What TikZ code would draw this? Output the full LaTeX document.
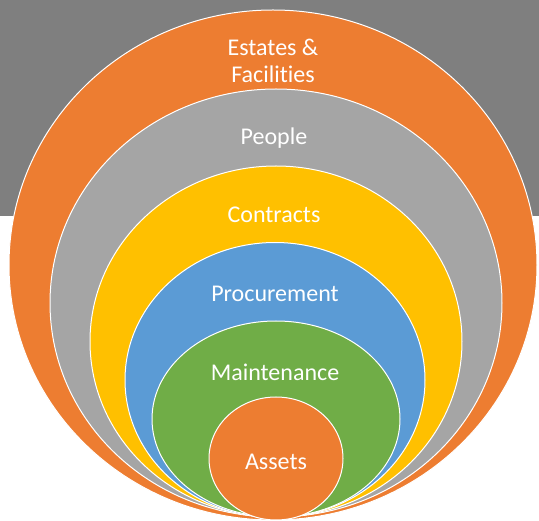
\documentclass[tikz,border=0pt]{standalone}
\usepackage{fontspec}
\setmainfont{Carlito}[Ligatures={NoCommon}]
\usetikzlibrary{shapes.geometric}
\definecolor{bgGray}{HTML}{7F7F7F}
\definecolor{ringOrange}{HTML}{ED7D31}
\definecolor{ringGray}{HTML}{A5A5A5}
\definecolor{ringYellow}{HTML}{FFC000}
\definecolor{ringBlue}{HTML}{5B9BD5}
\definecolor{ringGreen}{HTML}{70AD47}

\begin{document}
\begin{tikzpicture}[x=1pt,y=-1pt,ring/.style={ellipse, draw=white, line width=1pt, inner sep=0pt},txt/.style={text=white, font=\fontsize{24}{27}\selectfont, align=center}]
\useasboundingbox (0,0) rectangle (539,521);
\fill[bgGray] (0,0) rectangle (539,216);
% nested rings, outer first
\node (estates) [ring, fill=ringOrange, minimum width=528pt, minimum height=510pt] at (273,265) {};
\node (people) [ring, fill=ringGray, minimum width=452pt, minimum height=428pt] at (276,303) {};
\node (contracts) [ring, fill=ringYellow, minimum width=372pt, minimum height=351pt] at (276,341.5) {};
\node (procurement) [ring, fill=ringBlue, minimum width=300pt, minimum height=275pt] at (275,380) {};
\node (maintenance) [ring, fill=ringGreen, minimum width=248pt, minimum height=196pt] at (276,419) {};
\node (assets) [ring, fill=ringOrange, minimum width=134pt, minimum height=123pt] at (276,458.5) {};
% labels
\node (lEstates) [txt] at (273,61) {Estates \&\\Facilities};
\node (lPeople) [txt] at (274,138) {People};
\node (lContracts) [txt] at (274,215) {Contracts};
\node (lProcurement) [txt] at (275,294) {Procurement};
\node (lMaintenance) [txt] at (275,372) {Maintenance};
\node (lAssets) [txt] at (276,462) {Assets};
\end{tikzpicture}
\end{document}
